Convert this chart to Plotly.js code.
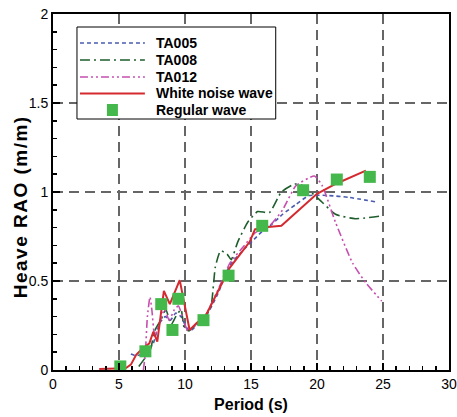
<!DOCTYPE html>
<html>
<head>
<meta charset="utf-8">
<script src="https://cdn.plot.ly/plotly-3.0.1.min.js"></script>
<style>html,body{margin:0;padding:0;background:#fff;}#chart{width:457px;height:417px;}</style>
</head>
<body>
<div id="chart"></div>
<script>
// Period (s) and heave RAO (m/m)
const ta005X = [5.9, 6.3, 6.8, 7.2, 7.6, 8.05, 8.5, 8.9, 9.3, 9.7, 10.1, 10.4, 11.0, 11.5, 12.5, 13.4, 14.5, 15.25, 16.0, 16.6, 17.4, 18.4, 19.4, 20.9, 22.4, 24.4];
const ta005Y = [0.09, 0.08, 0.09, 0.11, 0.15, 0.26, 0.30, 0.28, 0.32, 0.30, 0.24, 0.22, 0.26, 0.29, 0.43, 0.59, 0.68, 0.735, 0.79, 0.82, 0.875, 0.93, 0.98, 0.98, 0.97, 0.945];

const ta008X = [6.5, 7.0, 7.4, 7.7, 8.2, 8.55, 8.95, 9.3, 9.7, 9.95, 10.3, 11.0, 11.5, 11.97, 12.3, 12.7, 13.2, 13.5, 14.0, 14.75, 15.5, 16.4, 17.3, 18.3, 18.8, 20.0, 21.4, 22.9, 24.8];
const ta008Y = [0.02, 0.07, 0.12, 0.22, 0.285, 0.34, 0.255, 0.30, 0.34, 0.235, 0.22, 0.27, 0.30, 0.36, 0.58, 0.67, 0.65, 0.62, 0.72, 0.83, 0.89, 0.885, 1.0, 1.045, 1.04, 0.97, 0.875, 0.85, 0.865];

const ta012X = [6.85, 7.0, 7.15, 7.35, 7.5, 7.7, 8.0, 8.45, 8.8, 9.2, 9.5, 9.9, 10.2, 10.8, 11.5, 12.5, 13.4, 14.5, 15.3, 16.4, 17.4, 18.4, 19.8, 20.4, 21.4, 22.7, 23.7, 24.9];
const ta012Y = [0.0, 0.1, 0.3, 0.41, 0.33, 0.19, 0.25, 0.34, 0.28, 0.34, 0.36, 0.28, 0.22, 0.25, 0.30, 0.45, 0.60, 0.70, 0.77, 0.81, 0.90, 1.035, 1.09, 1.035, 0.83, 0.60, 0.49, 0.387];

const whiteX = [3.5, 5.5, 5.9, 6.3, 6.7, 7.3, 7.6, 7.9, 8.4, 8.85, 9.6, 10.1, 10.35, 10.9, 11.5, 13.4, 14.9, 15.3, 15.9, 17.3, 20.0, 21.4, 23.7];
const whiteY = [0.006, 0.01, 0.03, 0.085, 0.115, 0.15, 0.215, 0.16, 0.445, 0.37, 0.505, 0.32, 0.225, 0.265, 0.295, 0.575, 0.72, 0.79, 0.80, 0.81, 0.99, 1.045, 1.12];

const regX = [5.1, 7.0, 8.2, 9.05, 9.5, 11.4, 13.3, 15.85, 18.95, 21.5, 24.0];
const regY = [0.02, 0.105, 0.37, 0.225, 0.40, 0.28, 0.53, 0.81, 1.01, 1.07, 1.085];

const seriesNames = ['TA005', 'TA008', 'TA012', 'White noise wave', 'Regular wave'];
const xTitle = 'Period (s)';
const yTitle = 'Heave RAO (m/m)';

const FONT = 'Liberation Sans, Arial, sans-serif';
const styles = [
  {color: '#4a5bb0', width: 1.6, dash: '4px,3px'},
  {color: '#1d5e2c', width: 1.6, dash: '10px,4px,2px,4px'},
  {color: '#c64fae', width: 1.6, dash: '8px,3px,2px,3px,2px,3px'},
  {color: '#d42a2f', width: 2, dash: 'solid'}
];
const markerColor = '#44b84a';

const traces = [
  {x: ta005X, y: ta005Y, name: seriesNames[0], mode: 'lines', showlegend: false,
   line: Object.assign({shape: 'spline', smoothing: 0.5}, styles[0])},
  {x: ta008X, y: ta008Y, name: seriesNames[1], mode: 'lines', showlegend: false,
   line: Object.assign({shape: 'spline', smoothing: 0.5}, styles[1])},
  {x: ta012X, y: ta012Y, name: seriesNames[2], mode: 'lines', showlegend: false,
   line: Object.assign({shape: 'spline', smoothing: 0.5}, styles[2])},
  {x: whiteX, y: whiteY, name: seriesNames[3], mode: 'lines', showlegend: false,
   line: styles[3]},
  {x: regX, y: regY, name: seriesNames[4], mode: 'markers', showlegend: false,
   marker: {symbol: 'square', size: 12, color: markerColor}}
];

// Hand-drawn legend (paper coordinates)
const plotL = 53, plotR = 449.5, plotT = 14, plotB = 370;
const px = v => (v - plotL) / (plotR - plotL);
const py = v => (plotB - v) / (plotB - plotT);
const rowY = [43, 60, 77, 93.5, 110];
const shapes = [
  {type: 'rect', xref: 'paper', yref: 'paper', x0: px(77), x1: px(276), y0: py(119), y1: py(27),
   line: {color: '#000', width: 1}, fillcolor: '#fff', layer: 'above'}
];
const annotations = [];
seriesNames.forEach((name, i) => {
  if (i < 4) {
    shapes.push({type: 'line', xref: 'paper', yref: 'paper', x0: px(80), x1: px(145), y0: py(rowY[i]), y1: py(rowY[i]),
      line: {color: styles[i].color, width: styles[i].width, dash: styles[i].dash}, layer: 'above'});
  } else {
    shapes.push({type: 'rect', xref: 'paper', yref: 'paper', x0: px(107), x1: px(118), y0: py(rowY[i] + 6), y1: py(rowY[i] - 6),
      line: {width: 0}, fillcolor: markerColor, layer: 'above'});
  }
  annotations.push({xref: 'paper', yref: 'paper', x: px(154), y: py(rowY[i]), xanchor: 'left', yanchor: 'middle',
    text: '<b>' + name + '</b>', showarrow: false, font: {family: FONT, size: 14, color: '#000'}});
});
annotations.push({xref: 'paper', yref: 'paper', x: px(20), y: py(207), xanchor: 'center', yanchor: 'middle',
  text: '<b>' + yTitle + '</b>', textangle: -90, showarrow: false, font: {family: FONT, size: 19, color: '#000'}});

const axisCommon = {
  showline: true, linecolor: '#000', linewidth: 2, mirror: true,
  ticks: 'inside', ticklen: 7, tickwidth: 1.5, tickcolor: '#000',
  showgrid: true, gridcolor: '#666', gridwidth: 1.3, griddash: '10px,6px',
  zeroline: false,
  tickfont: {family: FONT, size: 14, color: '#000'}
};

const layout = {
  width: 457, height: 417,
  margin: {l: plotL, r: 457 - plotR, t: plotT, b: 417 - plotB},
  paper_bgcolor: '#fff', plot_bgcolor: '#fff',
  showlegend: false,
  shapes: shapes,
  annotations: annotations,
  xaxis: Object.assign({}, axisCommon, {
    range: [0, 30], tick0: 0, dtick: 5,
    minor: {dtick: 1, ticks: 'inside', ticklen: 4, tickcolor: '#000', showgrid: false},
    title: {text: '<b>' + xTitle + '</b>', font: {family: FONT, size: 16, color: '#000'}, standoff: 8}
  }),
  yaxis: Object.assign({}, axisCommon, {
    range: [0, 2], tick0: 0, dtick: 0.5,
    minor: {dtick: 0.1, ticks: 'inside', ticklen: 4, tickcolor: '#000', showgrid: false}
  })
};

Plotly.newPlot('chart', traces, layout, {displayModeBar: false, staticPlot: true}).then(() => {
  document.querySelectorAll('.annotation-text').forEach(el => {
    if (el.textContent === yTitle) el.style.letterSpacing = '1.5px';
  });
});
</script>
</body>
</html>
